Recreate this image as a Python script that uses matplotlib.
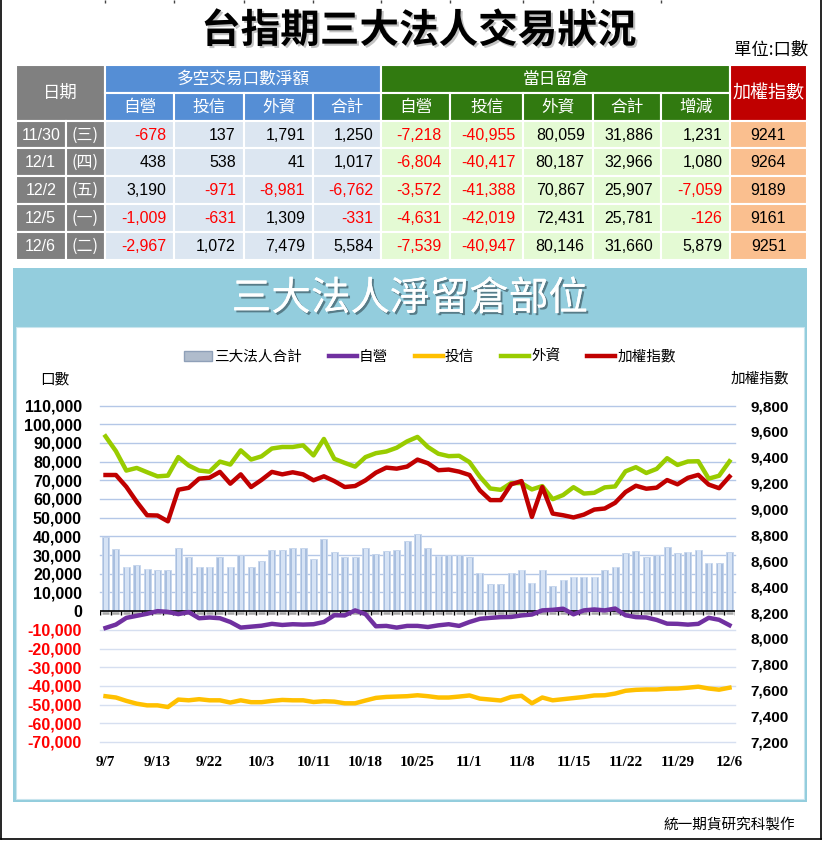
import numpy as np
import matplotlib
matplotlib.use('Agg')
import matplotlib.pyplot as plt
from matplotlib.patches import Rectangle, Patch
from matplotlib.lines import Line2D
import matplotlib.patheffects as pe

CJK = 'Noto Sans CJK TC'
plt.rcParams['font.family'] = [CJK, 'DejaVu Sans']

# ---- table data (last five trading days) ----
dates = ['11/30', '12/1', '12/2', '12/5', '12/6']
weekdays = ['(三)', '(四)', '(五)', '(一)', '(二)']
net_dealer = [-678, 438, 3190, -1009, -2967]
net_trust = [137, 538, -971, -631, 1072]
net_foreign = [1791, 41, -8981, 1309, 7479]
net_total = [1250, 1017, -6762, -331, 5584]
oi_dealer = [-7218, -6804, -3572, -4631, -7539]
oi_trust = [-40955, -40417, -41388, -42019, -40947]
oi_foreign = [80059, 80187, 70867, 72431, 80146]
oi_total = [31886, 32966, 25907, 25781, 31660]
oi_change = [1231, 1080, -7059, -126, 5879]
taiex = [9241, 9264, 9189, 9161, 9251]

# ---- chart data (61 trading days, 9/7 .. 12/6) ----
xlabels = ['9/7', '9/13', '9/22', '10/3', '10/11', '10/18', '10/25',
           '11/1', '11/8', '11/15', '11/22', '11/29', '12/6']

total_oi = [39700, 33300, 23700, 24500, 22800, 21800, 21800, 33800, 29100, 23700,
            23700, 29000, 23700, 30000, 23400, 26600, 32600, 32600, 33600, 33600,
            27700, 38700, 31700, 29000, 29100, 33600, 30400, 32000, 32700, 37600,
            41400, 33600, 29700, 30200, 30200, 29100, 20500, 14400, 14400, 20500,
            22100, 15100, 22100, 13300, 16900, 18300, 18300, 18300, 21800, 23700,
            30900, 32000, 28800, 29900, 34200, 31100, 31886, 32966, 25907, 25781,
            31660]

dealer = [-9000, -7200, -3600, -2500, -1400, 0, -400, -1600, -500, -3800,
          -3400, -3800, -5800, -8800, -8300, -7800, -6800, -7400, -7000, -7200,
          -7000, -5800, -2200, -2300, 400, -1600, -8100, -7900, -8800, -7900,
          -7900, -8500, -7600, -7000, -7900, -5800, -4100, -3600, -3200, -3100,
          -2300, -1800, 400, 700, 1300, -1700, 400, 900, 400, 1400,
          -2200, -3200, -3400, -4700, -6700, -6800, -7218, -6804, -3572, -4631,
          -7539]

trust = [-45500, -46200, -48000, -49500, -50400, -50400, -51300, -47300, -47700, -47100,
         -47700, -47700, -48900, -47700, -48700, -48700, -48000, -47500, -47700, -47700,
         -48600, -48200, -48400, -49300, -49300, -47800, -46400, -45900, -45700, -45500,
         -45000, -45500, -46200, -46200, -45700, -45100, -46800, -47300, -47800, -45900,
         -45300, -49300, -46200, -47700, -47100, -46500, -45900, -45100, -45000, -44100,
         -42600, -42100, -41900, -41900, -41500, -41400, -40955, -40417, -41388, -42019,
         -40947]

foreign = [93500, 85600, 75200, 76600, 74300, 72100, 72500, 82400, 77900, 75200,
           74600, 80000, 78400, 86000, 81100, 82800, 87000, 87800, 87800, 88700,
           83300, 92100, 81500, 79300, 77300, 82400, 84500, 85400, 87400, 90800,
           93200, 87800, 84200, 82900, 83100, 79700, 71900, 65600, 64900, 68500,
           68500, 65100, 66900, 59900, 62100, 66300, 62900, 63300, 66200, 66700,
           74800, 77000, 73900, 76100, 81800, 78200, 80059, 80187, 70867, 72431,
           80146]

index = [9263, 9263, 9172, 9056, 8952, 8950, 8905, 9149, 9164, 9235,
         9242, 9287, 9196, 9268, 9170, 9225, 9287, 9268, 9284, 9268,
         9222, 9253, 9216, 9170, 9178, 9222, 9281, 9320, 9312, 9328,
         9382, 9354, 9300, 9305, 9289, 9263, 9144, 9069, 9069, 9191,
         9216, 8939, 9170, 8965, 8952, 8935, 8957, 8996, 9004, 9048,
         9131, 9180, 9157, 9165, 9224, 9191, 9241, 9264, 9189, 9161,
         9251]

W, H = 823, 842
fig = plt.figure(figsize=(W / 100, H / 100), dpi=100)
fig.patch.set_facecolor('white')

# background axes in pixel coordinates
bg = fig.add_axes([0, 0, 1, 1])
bg.set_xlim(0, W)
bg.set_ylim(H, 0)
bg.axis('off')
bg.set_zorder(0)

# outer black border
bg.plot([0.8, 0.8], [0, 838.5], color='black', lw=1.2)
bg.plot([820.7, 820.7], [0, 838.5], color='black', lw=1.2)
bg.plot([0.8, 820.7], [838.5, 838.5], color='black', lw=1.2)

cols = [15.8, 65.7, 105.1, 174.5, 243.8, 313.2, 381.5, 449.8, 523.4, 592.7, 661.1, 730.4, 806.6]
rows = [65, 92.5, 120.7, 148.3, 176, 204, 232, 260]
bg.vlines(cols[2:11], 0, 3, color='#444444', lw=1)

# titles
bg.text(419, 31, '台指期三大法人交易狀況', ha='center', va='center', fontsize=28.5,
        weight='bold', color='black',
        path_effects=[pe.withSimplePatchShadow(offset=(1.5, -1.5), shadow_rgbFace='#888888', alpha=0.5)])
bg.text(808, 50, '單位:口數', ha='right', va='center', fontsize=12.5, color='black')


def cell(x0, x1, y0, y1, fc, text='', tc='white', ha='center', size=12, family=None):
    bg.add_patch(Rectangle((x0, y0), x1 - x0, y1 - y0, facecolor=fc, edgecolor='white', lw=1.5))
    if text:
        tx = (x0 + x1) / 2 if ha == 'center' else x1 - 8
        kw = {}
        if family:
            kw['family'] = family
        bg.text(tx, (y0 + y1) / 2 + 0.5, text, ha=ha, va='center', color=tc, fontsize=size, **kw)


GRAY = '#808080'
BLUE_H = '#558ed5'
GREEN_H = '#317a10'
RED_H = '#c00000'
BLUE_C = '#dce6f1'
GREEN_C = '#e4fad4'
PEACH = '#fabf8f'

cell(cols[0], cols[2], rows[0], rows[2], GRAY, '日期', size=12.5)
cell(cols[2], cols[6], rows[0], rows[1], BLUE_H, '多空交易口數淨額', size=12)
cell(cols[6], cols[11], rows[0], rows[1], GREEN_H, '當日留倉', size=12)
cell(cols[11], cols[12], rows[0], rows[2], RED_H, '加權指數', size=13)
for j, h in enumerate(['自營', '投信', '外資', '合計']):
    cell(cols[2 + j], cols[3 + j], rows[1], rows[2], BLUE_H, h, size=12)
for j, h in enumerate(['自營', '投信', '外資', '合計', '增減']):
    cell(cols[6 + j], cols[7 + j], rows[1], rows[2], GREEN_H, h, size=12)

blue_cols = [net_dealer, net_trust, net_foreign, net_total]
green_cols = [oi_dealer, oi_trust, oi_foreign, oi_total, oi_change]
for r in range(len(dates)):
    y0, y1 = rows[2 + r], rows[3 + r]
    cell(cols[0], cols[1], y0, y1, GRAY, dates[r], size=11.5, family='Liberation Sans')
    cell(cols[1], cols[2], y0, y1, GRAY, weekdays[r], size=11.5)
    for j, arr in enumerate(blue_cols):
        v = arr[r]
        cell(cols[2 + j], cols[3 + j], y0, y1, BLUE_C, f'{v:,}',
             tc='#ff0000' if v < 0 else 'black', ha='right', size=11.5, family='Liberation Sans')
    for j, arr in enumerate(green_cols):
        v = arr[r]
        cell(cols[6 + j], cols[7 + j], y0, y1, GREEN_C, f'{v:,}',
             tc='#ff0000' if v < 0 else 'black', ha='right', size=11.5, family='Liberation Sans')
    cell(cols[11], cols[12], y0, y1, PEACH, str(taiex[r]), tc='black', size=11.5, family='Liberation Sans')

# chart panel frame
FRAME = '#93cddd'
bg.add_patch(Rectangle((12.7, 268), 794.3, 534, facecolor=FRAME, edgecolor='none'))
bg.add_patch(Rectangle((16.5, 327), 787.5, 472.3, facecolor='white', edgecolor='#c9e5ee', lw=0.8))
bg.text(410, 299, '三大法人淨留倉部位', ha='center', va='center', fontsize=28.5, color='white',
        path_effects=[pe.withSimplePatchShadow(offset=(1.5, -1.5), shadow_rgbFace='#3e5a64', alpha=0.7),
                      pe.Normal()])
bg.text(55, 379, '口數', ha='center', va='center', fontsize=10.5, color='black')
bg.text(759.5, 378, '加權指數', ha='center', va='center', fontsize=10.5, color='black')
bg.text(795, 825, '統一期貨研究科製作', ha='right', va='center', fontsize=10.5, color='black')

# ---- chart ----
n = len(foreign)
x = np.arange(n)
ax = fig.add_axes([100 / W, (H - 742) / H, 635 / W, 336.5 / H])
ax.set_zorder(2)
ax.patch.set_visible(False)
ax.set_xlim(-0.53, n - 1 + 0.53)
ax.set_ylim(-70000, 110000)
for s in ax.spines.values():
    s.set_visible(False)

lticks = list(range(-70000, 110001, 10000))
for v in lticks:
    if v != 0:
        ax.axhline(v, color='#b4c7e7' if v > 0 else '#d6dff0', lw=1, zorder=1, clip_on=False)

# cylinder-ish bars: darker body plus a light highlight strip
ax.bar(x, total_oi, width=0.66, color='#a9bfdf', edgecolor='#c5d5ec', lw=0.6, zorder=2)
ax.bar(x + 0.06, np.array(total_oi) * 0.985, width=0.32, color='#d6e3f5', lw=0, zorder=2)
ax.hlines([-1100] * n, x - 0.33, x + 0.33, color='#a6a6a6', lw=1.8, zorder=2)
ax.axhline(0, color='black', lw=1.2, zorder=3)
ax.vlines(np.arange(n + 1) - 0.5, -2100, 0, color='black', lw=1, zorder=3)

ax.plot(x, foreign, color='#99cc00', lw=3.2, zorder=4)
ax.plot(x, dealer, color='#7030a0', lw=3.2, zorder=4)
ax.plot(x, trust, color='#ffc000', lw=3.2, zorder=4)

ax.set_yticks(lticks)
ax.set_yticklabels([f'{v:,}' for v in lticks], family='Liberation Sans', weight='bold', fontsize=11.5)
for lab, v in zip(ax.get_yticklabels(), lticks):
    lab.set_color('#ff0000' if v < 0 else 'black')
ax.tick_params(axis='y', length=0, pad=13)
ax.set_xticks(x[::5])
ax.set_xticklabels(xlabels, family='Liberation Serif', weight='bold', fontsize=11)
ax.tick_params(axis='x', length=0, pad=10)

ax2 = ax.twinx()
ax2.set_ylim(7200, 9800)
ax2.patch.set_visible(False)
for s in ax2.spines.values():
    s.set_visible(False)
ax2.plot(x, index, color='#c00000', lw=3.2, zorder=5)
rticks = list(range(7200, 9801, 200))
ax2.set_yticks(rticks)
ax2.set_yticklabels([f'{v:,}' for v in rticks], family='Liberation Sans', weight='bold', fontsize=11)
ax2.tick_params(axis='y', length=0, pad=11)

handles = [Patch(facecolor='#b0bccc', edgecolor='#8fa0b8'),
           Line2D([], [], color='#7030a0', lw=3.2),
           Line2D([], [], color='#ffc000', lw=3.2),
           Line2D([], [], color='#99cc00', lw=3.2),
           Line2D([], [], color='#c00000', lw=3.2)]
labels = ['三大法人合計', '自營', '投信', '外資', '加權指數']
fig.legend(handles, labels, loc='center', bbox_to_anchor=(430 / W, 1 - 356.7 / H), ncol=5,
           frameon=False, handlelength=1.9, handletextpad=0.15, columnspacing=1.85,
           prop={'family': CJK, 'size': 10.5})

fig.savefig('out.png', dpi=100)
